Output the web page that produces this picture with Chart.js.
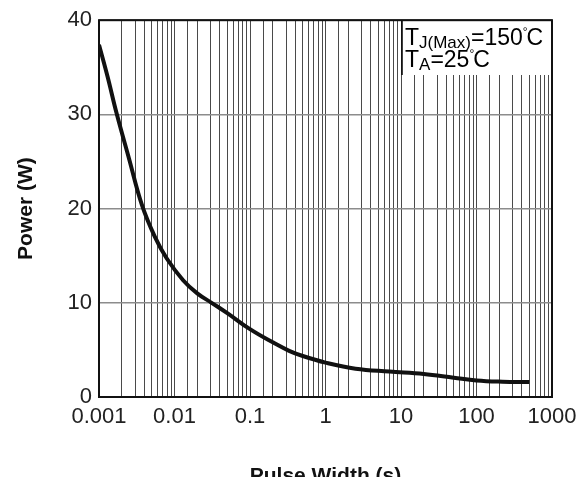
<!DOCTYPE html>
<html>
<head>
<meta charset="utf-8">
<script src="https://cdn.jsdelivr.net/npm/chart.js@4"></script>
<style>
html,body{margin:0;padding:0;background:#fff;}
#wrap{width:586px;height:477px;}
</style>
</head>
<body>
<div id="wrap"><canvas id="c" width="586" height="477"></canvas></div>
<script>
// ---- data ----
const pulseWidth = [0.001, 0.0013, 0.0017, 0.0025, 0.0037, 0.0055, 0.0079, 0.013, 0.02, 0.031, 0.05, 0.1, 0.2, 0.33, 0.5, 1, 2.5, 7, 20, 50, 100, 220, 500];
const power      = [37.4, 34.0, 30.2, 25.3, 20.4, 17.0, 14.7, 12.4, 11.0, 10.0, 8.9, 7.2, 5.8, 4.9, 4.35, 3.65, 3.0, 2.7, 2.45, 2.05, 1.75, 1.62, 1.58];
const xTickLabels = ["0.001", "0.01", "0.1", "1", "10", "100", "1000"];
const yTickLabels = ["0", "10", "20", "30", "40"];
const xTitle = "Pulse Width (s)";
const yTitle = "Power (W)";
const noteLine1 = {main: "T", sub: "J(Max)", rest: "=150", deg: "°", unit: "C"};
const noteLine2 = {main: "T", sub: "A", rest: "=25", deg: "°", unit: "C"};

const FONT = "'Liberation Sans', Arial, Helvetica, sans-serif";

const overlay = {
  id: 'overlay',
  afterDraw(chart) {
    const ctx = chart.ctx;
    const a = chart.chartArea;
    ctx.save();
    // note box
    const bx = 402, by = 21, bw = a.right - 402, bh = 54;
    ctx.fillStyle = '#fff';
    ctx.fillRect(bx, by, bw, bh);
    ctx.strokeStyle = '#000';
    ctx.lineWidth = 1.5;
    ctx.beginPath();
    ctx.moveTo(bx, by); ctx.lineTo(bx, by + bh);
    ctx.stroke();
    ctx.fillStyle = '#000';
    ctx.textBaseline = 'alphabetic';
    ctx.textAlign = 'left';
    function drawNote(n, x, y) {
      ctx.font = '23px ' + FONT;
      ctx.fillText(n.main, x, y);
      x += ctx.measureText(n.main).width;
      ctx.font = '17px ' + FONT;
      ctx.fillText(n.sub, x, y + 3);
      x += ctx.measureText(n.sub).width;
      ctx.font = '23px ' + FONT;
      ctx.fillText(n.rest, x, y);
      x += ctx.measureText(n.rest).width;
      ctx.font = '12px ' + FONT;
      ctx.fillText(n.deg, x, y - 9);
      x += ctx.measureText(n.deg).width - 1;
      ctx.font = '23px ' + FONT;
      ctx.fillText(n.unit, x, y);
    }
    drawNote(noteLine1, 405, 45);
    drawNote(noteLine2, 405, 67);

    // plot frame
    ctx.strokeStyle = '#111';
    ctx.lineWidth = 2;
    ctx.strokeRect(a.left, a.top, a.right - a.left, a.bottom - a.top);

    // axis titles
    ctx.fillStyle = '#111';
    ctx.font = 'bold 21px ' + FONT;
    ctx.textAlign = 'center';
    ctx.textBaseline = 'alphabetic';
    ctx.fillText(xTitle, (a.left + a.right) / 2, 482);
    ctx.translate(32, (a.top + a.bottom) / 2);
    ctx.rotate(-Math.PI / 2);
    ctx.fillText(yTitle, 0, 0);
    ctx.restore();
  }
};

new Chart(document.getElementById('c'), {
  type: 'line',
  data: {
    datasets: [{
      data: pulseWidth.map((x, i) => ({x: x, y: power[i]})),
      borderColor: '#111',
      borderWidth: 4,
      pointRadius: 0,
      fill: false,
      tension: 0.4
    }]
  },
  options: {
    responsive: false,
    animation: false,
    layout: {padding: {top: 18, right: 34, left: 0, bottom: 0}},
    plugins: {legend: {display: false}, tooltip: {enabled: false}},
    scales: {
      x: {
        type: 'logarithmic',
        min: 0.001,
        max: 1000,
        afterFit(s) { s.height = 80; },
        border: {display: false},
        grid: {color: '#4a4a4a', lineWidth: 1, drawTicks: false},
        ticks: {
          autoSkip: false,
          maxRotation: 0,
          padding: 7,
          color: '#222',
          font: {family: FONT, size: 22},
          callback(v) {
            const l = Math.log10(v);
            if (Math.abs(l - Math.round(l)) < 1e-9) return xTickLabels[Math.round(l) + 3];
            return '';
          }
        }
      },
      y: {
        type: 'linear',
        min: 0,
        max: 40,
        afterFit(s) { s.width = 99; },
        border: {display: false},
        grid: {color: '#8c8c8c', lineWidth: 1.5, drawTicks: false},
        ticks: {
          stepSize: 10,
          padding: 7,
          color: '#222',
          font: {family: FONT, size: 22},
          callback(v) { return yTickLabels[Math.round(v / 10)]; }
        }
      }
    }
  },
  plugins: [overlay]
});
</script>
</body>
</html>
